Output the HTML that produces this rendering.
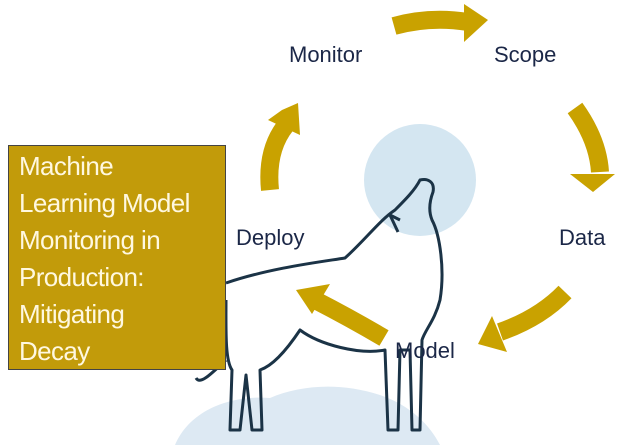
<!DOCTYPE html>
<html><head><meta charset="utf-8"><style>
html,body{margin:0;padding:0;background:#fff;width:624px;height:445px;overflow:hidden}
svg{position:absolute;left:0;top:0}
.lbl{font-family:"Liberation Sans",sans-serif;font-size:22px;fill:#1b2747}
.box{position:absolute;left:8px;top:145px;width:218px;height:225px;background:#C29B0A;border:1px solid #444;box-sizing:border-box}
.box div{position:absolute;left:10px;top:2px;font-family:"Liberation Sans",sans-serif;font-size:26px;line-height:37px;color:#fff8e0;letter-spacing:-0.6px;white-space:nowrap}
</style></head><body>
<svg width="624" height="445" viewBox="0 0 624 445">
<circle cx="420" cy="180" r="56" fill="#d4e6f1"/>
<path d="M175 445 C190 410 230 395 270 398 C300 385 340 382 380 395 C410 405 430 425 440 445 Z" fill="#dde9f3"/>
<g fill="none" stroke="#C9A200" stroke-width="18">
<path d="M394 26 Q430 16 468 22"/>
<path d="M575 108 Q598 140 600 172"/>
<path d="M565 292 Q540 318 500 332"/>
<path d="M384 338 Q350 318 315 300"/>
<path d="M270 190 Q266 150 286 125"/>
</g>
<g fill="#C9A200">
<polygon points="464,4 488,20 464,42"/>
<polygon points="570,174 615,174 593,192"/>
<polygon points="492,316 478,344 507,352"/>
<polygon points="296,290 330,284 312,314"/>
<polygon points="282,110 298,103 300,135 268,120"/>
</g>
<g fill="none" stroke="#1b3346" stroke-width="3" stroke-linejoin="round">
<path d="M226 283 C270 268 320 262 345 258 C365 240 380 220 395 210 C405 200 415 190 420 180 C428 178 435 182 433 192 C430 200 428 210 432 220 C440 235 445 270 440 300 C435 320 425 330 422 340 L420 430 L412 430 L410 350 L400 350 L398 430 L388 430 L385 350 C360 355 320 345 300 330 C290 345 275 365 260 370 L262 430 L252 430 L246 375 L240 430 L230 430 L232 370 C225 360 226 330 226 300"/>
<path d="M400 220 L390 215 L398 232"/>
<path d="M226 360 C210 375 200 385 196 378"/>
</g>
<text class="lbl" x="289" y="62">Monitor</text>
<text class="lbl" x="494" y="62">Scope</text>
<text class="lbl" x="236" y="245">Deploy</text>
<text class="lbl" x="559" y="245">Data</text>
<text class="lbl" x="395" y="358">Model</text>
</svg>
<div class="box"><div>Machine<br>Learning Model<br>Monitoring in<br>Production:<br>Mitigating<br>Decay</div></div>
</body></html>
